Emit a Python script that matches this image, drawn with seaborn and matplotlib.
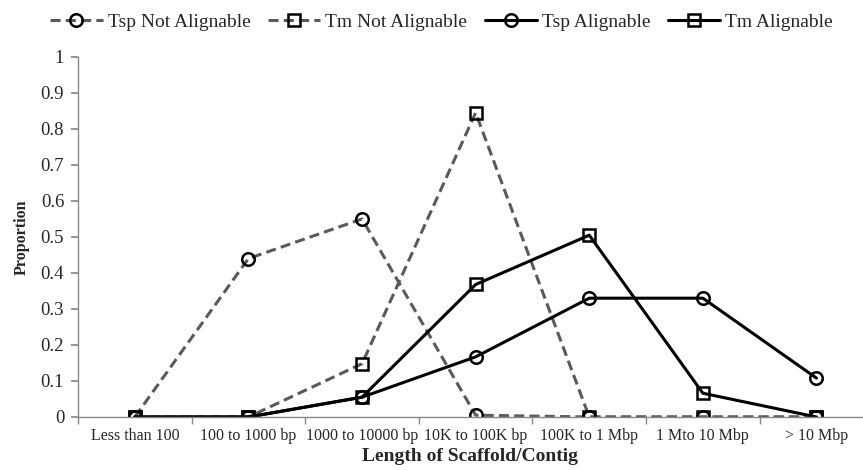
import matplotlib
matplotlib.use('Agg')
import matplotlib.pyplot as plt
import numpy as np
import pandas as pd
import seaborn as sns

# categories on the x axis
categories = ['Less than 100', '100 to 1000 bp', '1000 to 10000 bp', '10K to 100K bp',
              '100K to 1 Mbp', '1 Mto 10 Mbp', '> 10 Mbp']

# proportions
tsp_not_alignable = [0, 0.44, 0.55, 0.005, 0, 0, 0]
tm_not_alignable = [0, 0, 0.148, 0.845, 0, 0, 0]
tsp_alignable = [0, 0, 0.055, 0.167, 0.33, 0.33, 0.108]
tm_alignable = [0, 0, 0.055, 0.368, 0.505, 0.066, 0]

series_names = ['Tsp Not Alignable', 'Tm Not Alignable', 'Tsp Alignable', 'Tm Alignable']
series_values = [tsp_not_alignable, tm_not_alignable, tsp_alignable, tm_alignable]

rows = []
for name, vals in zip(series_names, series_values):
    for i, v in enumerate(vals):
        rows.append({'series': name, 'pos': i, 'value': v})
df = pd.DataFrame(rows)

sns.set_theme(style='white')
plt.rcParams['font.family'] = ['Liberation Serif', 'DejaVu Serif']

fig = plt.figure(figsize=(8.63, 4.70), dpi=100)
ax = fig.add_axes([0.0904, 0.1128, 0.909, 0.766])

styles = {
    'Tsp Not Alignable': dict(color='#5a5a5a', linestyle=(0, (3.3, 1.7)), marker='o'),
    'Tm Not Alignable': dict(color='#5a5a5a', linestyle=(0, (3.3, 1.7)), marker='s'),
    'Tsp Alignable': dict(color='black', linestyle='-', marker='o'),
    'Tm Alignable': dict(color='black', linestyle='-', marker='s'),
}

for name in series_names:
    st = styles[name]
    sns.lineplot(data=df[df.series == name], x='pos', y='value', ax=ax,
                 color=st['color'], linestyle=st['linestyle'], linewidth=2.2,
                 marker=st['marker'], markersize=10.5, markerfacecolor='none',
                 markeredgecolor='black', markeredgewidth=1.8, label=name)

ax.set_xlim(-0.5, 6.405)
ax.set_ylim(0, 1)
ax.set_yticks(np.arange(0, 1.01, 0.1))
ax.set_yticklabels(['0', '0.1', '0.2', '0.3', '0.4', '0.5', '0.6', '0.7', '0.8', '0.9', '1'])
ax.set_xticks(range(len(categories)))
ax.set_xticklabels(categories, fontsize=11.5)
ax.set_xticks(np.arange(-0.5, 6.5, 1), minor=True)
ax.tick_params(axis='x', which='major', length=0, pad=8)
ax.tick_params(axis='x', which='minor', length=5, color='#888888', direction='out', bottom=True)
ax.tick_params(axis='y', length=5, color='#888888', direction='out', left=True, labelsize=13.5, pad=5)

for side in ['top', 'right']:
    ax.spines[side].set_visible(False)
for side in ['left', 'bottom']:
    ax.spines[side].set_color('#888888')
    ax.spines[side].set_linewidth(1.0)

ax.set_xlabel('Length of Scaffold/Contig', fontsize=14, fontweight='bold', labelpad=3)
ax.set_ylabel('Proportion', fontsize=11.5, fontweight='bold', labelpad=8)

handles, labels = ax.get_legend_handles_labels()
ax.get_legend().remove()
for h in handles:
    h.set_markersize(9)
fig.legend(handles, labels, loc='center', bbox_to_anchor=(0.5116, 0.953), ncol=4, frameon=False,
           fontsize=14, handlelength=2.7, columnspacing=0.9, handletextpad=0.25)

fig.savefig('out.png', dpi=100)
